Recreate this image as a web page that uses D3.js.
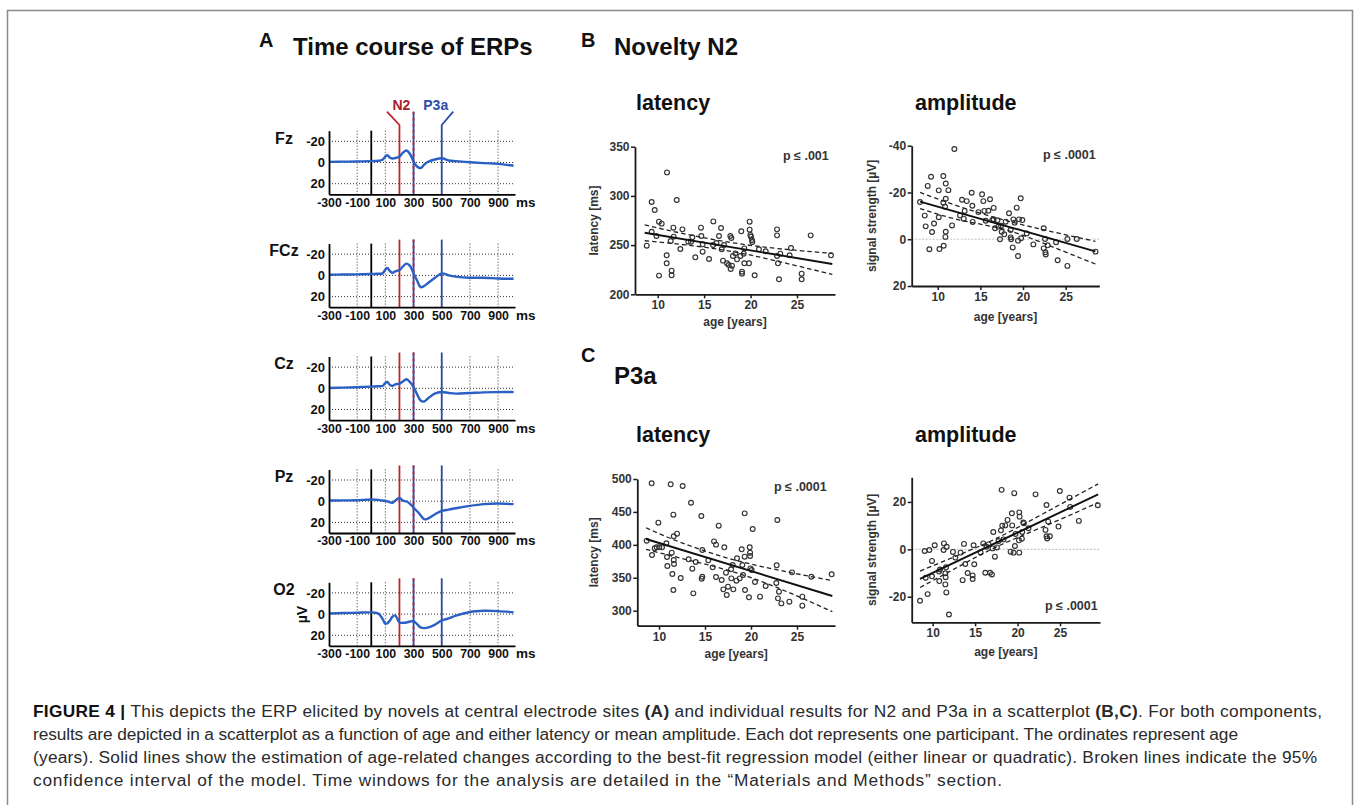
<!DOCTYPE html>
<html><head><meta charset="utf-8">
<script src="https://cdn.jsdelivr.net/npm/d3@7"></script>
<style>
body{margin:0;background:#fff}
svg{display:block;font-family:Arial,"Liberation Sans",Helvetica,sans-serif}
</style>
</head><body>
<svg id="fig" width="1356" height="805"></svg>
<script>
// ---------------- DATA ----------------
// Panel A: ERP time course (µV, negative up)
const electrodes = ["Fz", "FCz", "Cz", "Pz", "O2"];
const erpTimes = [-300,-200,-100,0,50,80,100,115,130,150,170,200,225,250,275,300,325,350,375,400,450,500,550,600,700,800,900,1010];
const erpFz  = [-0.6,-0.8,-1,-1.3,-1.6,-2.5,-5.7,-6.9,-4.8,-3.8,-4.2,-5.7,-9.3,-11.3,-8.0,-0.9,3.8,5.3,2.0,-0.5,-2.8,-4.0,-1.9,-1.3,-0.3,0.6,1.3,3.1];
const erpFCz = [-0.6,-0.8,-1,-1.3,-1.5,-1.9,-5.5,-7,-4.5,-2.5,-3.8,-5.1,-8.5,-11.1,-9.0,-1.9,4.8,11.1,10.0,7.5,2.5,-1.9,0.0,1.2,2.2,2.2,2.9,3.2];
const erpCz  = [-0.3,-0.6,-1,-1.6,-1.9,-2.2,-5,-6,-3.5,-2.2,-3.8,-4.4,-6.5,-8.5,-5.8,-1.3,5.5,11.5,12.5,9.8,5,3.5,4.4,5.0,4.4,3.8,3.6,3.5];
const erpPz  = [-0.6,-0.8,-0.9,-1.6,-1.2,-0.6,-0.3,0.2,0.8,1.6,-0.5,-3.1,-0.5,0.3,2.5,6,9.5,13.2,17,16.5,12.5,9.1,7.9,6.6,4.4,2.8,2.2,2.8];
const erpO2  = [-0.6,-1,-1.3,-1.6,-0.5,4.5,9.1,8.5,6.6,2.5,1.2,7.9,8.2,7.9,7.0,6.6,9.5,12.5,13.2,12.8,10.1,6,4.1,1.5,-2.0,-3.1,-2.8,-1.6];
const erpSeries = [erpFz, erpFCz, erpCz, erpPz, erpO2];
const erpXTicks = [-300,-100,100,300,500,700,900];
const erpYTicks = [-20,0,20];
const erpGridX = [-100,100,300,500,700,900];
const markerTimes = [0,200,300,500];
const markerLabels = ["", "N2", "", "P3a"];

// Scatter ticks
const ageTicks = [10,15,20,25];
const n2LatTicks = [200,250,300,350];
const n2AmpTicks = [-40,-20,0,20];
const p3LatTicks = [300,350,400,450,500];
const p3AmpTicks = [-20,0,20];

// B: Novelty N2 latency
const n2LatAge = [8.82,9.35,9.68,9.35,9.86,10.14,10.14,10.43,11.0,10.97,10.97,11.5,11.5,11.4,11.69,11.72,12.05,12.44,12.66,13.3,13.59,13.73,14.05,14.66,14.7,14.84,14.84,15.53,15.99,15.96,16.32,16.6,16.82,16.89,17.03,17.14,17.46,17.64,17.82,17.93,17.86,18.0,18.1,18.36,18.54,18.9,19.0,19.08,19.08,19.33,19.26,19.33,19.83,19.9,19.9,19.98,20.05,20.15,20.19,20.44,20.9,21.63,22.85,22.85,22.85,22.95,23.06,23.2,24.2,24.35,25.5,25.5,26.47,28.66];
const n2LatVal = [249.4,293.8,285.7,263.6,259.2,219,273.8,271.8,323.9,239.6,231.5,224,219.3,254.2,267.7,258.6,295.8,246,266,253.5,253.5,257.9,237.6,267.7,259.2,250.8,243.3,235.9,274.1,250.1,252.1,259.2,267.4,245.7,234.2,250.1,231.5,229.8,259.2,257.2,225.7,229.1,238.9,241.6,235.5,238.9,264,223,221,246.6,241.3,231.5,231.5,273.8,265.7,260.3,258.6,255.2,253.2,219.3,245.7,243.7,266,259.9,238.9,231.5,215.2,241.3,239.6,247,221,215.2,259.9,239.6];
const n2LatFitAge = [8.6, 28.8];
const n2LatFit = [262.6, 230.8];
const n2LatCIAge = [8.6, 13, 18, 23, 28.8];
const n2LatCIUp = [270.6, 261.2, 252.5, 246.4, 241.6];
const n2LatCILo = [254.4, 250.2, 243.5, 233.4, 220.3];

// B: Novelty N2 amplitude
const n2AmpAge = [7.93,8.48,8.59,8.83,9.02,9.22,9.34,9.57,10.12,10.12,10.2,10.66,10.66,10.94,10.94,10.86,10.94,10.9,10.7,11.25,11.68,11.95,12.62,12.85,13.05,13.16,13.4,13.98,14.06,14.1,14.77,15.2,15.35,15.47,15.63,15.94,16.13,16.4,16.56,16.56,16.72,17.0,17.1,17.3,17.42,17.5,17.8,17.97,18.36,18.55,18.55,18.6,18.79,18.87,19.02,19.26,19.41,19.41,19.53,19.73,19.77,19.92,20.43,21.21,22.42,22.42,22.58,22.62,22.66,22.89,23.87,24.06,25.2,25.2,26.3,28.5];
const n2AmpVal = [-15.9,-10.1,-5.5,-22.8,4.3,-26.7,-3.1,-6.7,-20.9,-9.4,4.2,-27.0,-15.6,-23.8,-17.3,-13.9,-3.2,-1.0,2.8,-21.0,-5.9,-38.6,-10.2,-16.9,-8.8,-12.1,-16.3,-19.9,-14.3,-7.4,-11.6,-19.2,-16.3,-12.1,-7.9,-12.2,-17.1,-8.2,-13.4,-8.5,-4.7,-8.1,-5.4,0.0,-5.8,-3.2,-2.1,-7.5,-11.1,-3.9,-0.8,0.0,3.5,-8.5,-7.1,-13.5,0.6,7.2,-8.5,-17.5,-0.4,-8.2,-2.5,2.2,-4.7,3.9,-0.1,5.6,6.5,2.6,1.3,9.0,-0.1,11.4,-0.1,5.3];
const n2AmpFitAge = [7.93, 28.48];
const n2AmpFit = [-16.1, 5.2];
const n2AmpCIAge = [7.93, 12.6, 17.7, 22.8, 28.48];
const n2AmpCIUp = [-20.0, -13.9, -8.3, -3.7, 0.9];
const n2AmpCILo = [-13.1, -8.2, -4.3, 2.3, 10.6];

// C: P3a latency
const p3LatAge = [8.66,9.2,9.24,9.53,9.75,9.93,10.04,10.33,10.8,10.87,10.91,11.27,11.38,11.45,11.56,11.6,11.6,11.63,11.56,11.96,12.36,12.57,13.22,13.48,13.62,13.73,13.99,14.6,14.71,14.64,14.71,15.36,15.83,15.98,16.2,16.2,16.49,16.81,16.99,17.1,17.28,17.36,17.5,17.83,17.86,18.0,18.08,18.41,18.48,18.77,18.99,19.06,19.13,19.31,19.31,19.35,19.78,19.86,19.9,19.9,19.94,20.07,20.18,20.43,20.98,21.59,22.75,22.79,22.86,22.93,23.04,23.3,24.17,24.46,25.58,25.58,26.56,28.77];
const p3LatVal = [406.3,493.4,384.6,394.7,396.2,433.7,396.2,396.2,402.3,381.5,367.8,491.9,388.1,355.7,445.8,412.9,377,370.9,331.4,417,349.6,489.4,378,464,363.8,326.3,373.9,443.8,392.2,348.6,351.6,376.5,365.8,405.3,400.3,351.1,429.1,346.6,332.4,396.2,357.7,323.8,336.5,362.8,349.1,369.4,332.4,345.6,379.5,349.1,393.2,369.4,354.2,447.8,382,331.4,320.3,396.2,388.1,383.0,364.3,361.8,424.1,343.6,321.3,337.5,342,368.9,437.7,318.7,328.9,311.1,313.7,358.2,321.3,307.6,351.6,355.2];
const p3LatFitAge = [8.59, 28.84];
const p3LatFit = [408.9, 322.3];
const p3LatCIAge = [8.59, 12.3, 17.7, 23.2, 28.84];
const p3LatCIUp = [426, 404, 379, 361, 345.6];
const p3LatCILo = [393.2, 380, 360.5, 333, 298.5];

// C: P3a amplitude
const p3AmpAge = [8.51,9.06,9.18,9.41,9.61,9.92,9.92,10.24,10.75,10.78,10.86,11.29,11.33,11.49,11.53,11.57,11.49,11.61,11.65,11.92,12.39,12.67,13.29,13.53,13.69,13.84,14.12,14.71,14.71,14.82,14.9,15.65,15.96,16.2,16.35,16.59,16.75,16.98,17.06,17.14,17.33,17.57,17.76,18.04,18.12,18.2,18.35,18.55,18.82,19.18,19.33,19.37,19.53,19.61,19.69,19.76,20.16,20.2,20.2,20.24,20.51,20.55,20.67,20.75,21.29,22.12,23.29,23.41,23.41,23.49,23.61,23.8,24.82,24.98,26.12,26.2,27.22,29.45];
const p3AmpVal = [-21.7,-0.7,-12.0,-18.9,-0.3,-11.4,-4.9,1.7,-9.4,-13.4,-8.5,-0.3,2.5,-10.1,-11.8,-7.6,-14.8,-18.2,1.1,-27.5,-1.1,-3.5,-1.4,-13.0,2.3,-6.2,-10.0,-11.0,-12.5,1.7,-6.3,-1.3,2.5,-9.9,1.1,2.1,-9.9,-10.6,0.4,7.3,-3.1,0.8,3.5,8.0,25.1,10.0,4.2,10.1,12.4,-1.0,15.2,10.1,-1.4,23.7,1.4,6.5,3.8,-1.4,15.6,13.8,4.5,7.3,11.3,11.0,8.9,23.2,8.2,18.7,5.5,4.6,11.7,5.5,9.6,24.6,21.8,17.9,12.0,18.6];
const p3AmpFitAge = [8.51, 29.49];
const p3AmpFit = [-12.5, 23.2];
const p3AmpCIAge = [8.51, 13, 17.5, 23, 29.49];
const p3AmpCIUp = [-9.2, -2.5, 4.6, 15.0, 27.6];
const p3AmpCILo = [-16.1, -7.4, 1.0, 9.5, 19.7];

// ---------------- DRAW ----------------
const svg = d3.select("#fig");
svg.append("rect").attr("x",7.5).attr("y",10.5).attr("width",1345).attr("height",820)
  .attr("fill","none").attr("stroke","#8a8a8a").attr("stroke-width",1.5);

const fmt = d => String(d);

// Headers
function txt(x,y,s,size,weight,anchor,fill){
  return svg.append("text").attr("x",x).attr("y",y).text(s)
    .attr("font-size",size).attr("font-weight",weight||"bold")
    .attr("text-anchor",anchor||"start").attr("fill",fill||"#111");
}
txt(259,47,"A",20);
txt(293,55,"Time course of ERPs",24);
txt(581,47,"B",20);
txt(614,55,"Novelty N2",24);
txt(581,362,"C",20);
txt(614,384,"P3a",24);
txt(636,110,"latency",21.5);
txt(915,110,"amplitude",21.5);
txt(636,442,"latency",21.5);
txt(915,442,"amplitude",21.5);

// ---- Panel A ----
const RED = "#c0252d", BLUE = "#2a49a6", WAVE = "#2a5fc4";
const xE = d3.scaleLinear().domain([-300,1020]).range([329,515]);
electrodes.forEach((name,i)=>{
  const top = 130.7 + i*112.9, bot = top + 63.6;
  const yE = d3.scaleLinear().domain([-30,30]).range([top,bot]);
  const g = svg.append("g");
  // grid
  g.selectAll(".gx").data(erpGridX).enter().append("line")
    .attr("x1",d=>xE(d)).attr("x2",d=>xE(d)).attr("y1",top).attr("y2",bot)
    .attr("stroke","#333").attr("stroke-width",1).attr("stroke-dasharray","1,2");
  g.selectAll(".gy").data(erpYTicks).enter().append("line")
    .attr("x1",xE(-300)).attr("x2",xE(1020)).attr("y1",d=>yE(d)).attr("y2",d=>yE(d))
    .attr("stroke","#333").attr("stroke-width",1).attr("stroke-dasharray","1,2");
  // markers
  markerTimes.forEach((t,k)=>{
    const x = xE(t);
    if (t === 0) {
      g.append("line").attr("x1",x).attr("x2",x).attr("y1",top).attr("y2",bot)
        .attr("stroke","#000").attr("stroke-width",1.8);
    } else if (markerLabels[k] === "" ) {
      const y1 = i===0 ? top-19 : top-4;
      g.append("line").attr("x1",x).attr("x2",x).attr("y1",y1).attr("y2",bot)
        .attr("stroke",BLUE).attr("stroke-width",1.8);
      g.append("line").attr("x1",x).attr("x2",x).attr("y1",y1).attr("y2",bot)
        .attr("stroke",RED).attr("stroke-width",1.8).attr("stroke-dasharray","3,3");
    } else {
      const col = markerLabels[k]==="N2" ? RED : BLUE;
      if (i===0) {
        const dx = markerLabels[k]==="N2" ? -12.5 : 11.5;
        g.append("path").attr("d",`M${x+dx},${top-19} L${x},${top-5.7} L${x},${bot}`)
          .attr("fill","none").attr("stroke",col).attr("stroke-width",1.8);
        const lx = markerLabels[k]==="N2" ? x+2 : x-6;
        g.append("text").attr("x",lx).attr("y",top-20.5).text(markerLabels[k])
          .attr("font-size",14).attr("font-weight","bold").attr("fill",
            markerLabels[k]==="N2" ? "#a5202c" : "#2c4ea6").attr("text-anchor","middle");
      } else {
        g.append("line").attr("x1",x).attr("x2",x).attr("y1",top-4).attr("y2",bot)
          .attr("stroke",col).attr("stroke-width",1.8);
      }
    }
  });
  // waveform
  const line = d3.line().x((d,j)=>xE(erpTimes[j])).y(d=>yE(d)).curve(d3.curveCatmullRom.alpha(0.5));
  g.append("path").attr("d",line(erpSeries[i])).attr("fill","none")
    .attr("stroke",WAVE).attr("stroke-width",2.4);
  // axes
  const ay = g.append("g").attr("transform",`translate(${xE(-300)},0)`)
    .call(d3.axisLeft(yE).tickValues(erpYTicks).tickFormat(fmt).tickSize(0).tickSizeOuter(0).tickPadding(4));
  const ax = g.append("g").attr("transform",`translate(0,${bot})`)
    .call(d3.axisBottom(xE).tickValues(erpXTicks).tickFormat(fmt).tickSize(0).tickSizeOuter(0).tickPadding(3.7));
  [ay,ax].forEach(a=>{
    a.select(".domain").attr("stroke","#000").attr("stroke-width",1.8);
    a.selectAll("text").attr("font-family","Arial, 'Liberation Sans', sans-serif")
      .attr("font-weight","bold").attr("fill","#111");
  });
  ay.selectAll("text").attr("font-size",13);
  ax.selectAll("text").attr("font-size",12.3);
  g.append("text").attr("x",516).attr("y",bot+12.4).text("ms")
    .attr("font-size",13.5).attr("font-weight","bold").attr("fill","#111");
  g.append("text").attr("x",284).attr("y",top+12.8).text(name)
    .attr("font-size",16).attr("font-weight","bold").attr("text-anchor","middle").attr("fill","#111");
  if (name === "O2") {
    g.append("text").attr("transform",`translate(302,${(top+bot)/2+0.5}) rotate(-90)`)
      .attr("dy","0.35em").text("µV").attr("font-size",14).attr("font-weight","bold")
      .attr("text-anchor","middle").attr("fill","#111");
  }
});

// ---- Scatter panels ----
function scatter(o){
  const g = svg.append("g");
  const x = d3.scaleLinear().domain(o.xd).range(o.xr);
  const y = d3.scaleLinear().domain(o.yd).range(o.yr);
  if (o.zero) {
    g.append("line").attr("x1",o.xr[0]).attr("x2",o.xr[1]).attr("y1",y(0)).attr("y2",y(0))
      .attr("stroke","#c4c4c4").attr("stroke-width",1.2).attr("stroke-dasharray","2,1.5");
  }
  const ax = g.append("g").attr("transform",`translate(0,${o.yr[1]})`)
    .call(d3.axisBottom(x).tickValues(ageTicks).tickFormat(fmt).tickSize(4).tickSizeOuter(0).tickPadding(2.5));
  const ay = g.append("g").attr("transform",`translate(${o.xr[0]},0)`)
    .call(d3.axisLeft(y).tickValues(o.yt).tickFormat(fmt).tickSize(4).tickSizeOuter(0).tickPadding(1.5));
  [ax,ay].forEach(a=>{
    a.select(".domain").attr("stroke","#1a1a1a").attr("stroke-width",1.8);
    a.selectAll(".tick line").attr("stroke","#1a1a1a").attr("stroke-width",1.5);
    a.selectAll("text").attr("font-family","Arial, 'Liberation Sans', sans-serif")
      .attr("font-size",12).attr("font-weight","bold").attr("fill","#333");
  });
  // points
  g.selectAll("circle").data(o.age).enter().append("circle")
    .attr("cx",d=>x(d)).attr("cy",(d,i)=>y(o.val[i])).attr("r",2.4)
    .attr("fill","none").attr("stroke","#333").attr("stroke-width",1.15);
  // fit
  const lf = d3.line().x((d,i)=>x(o.fitAge[i])).y(d=>y(d));
  g.append("path").attr("d",lf(o.fit)).attr("fill","none").attr("stroke","#111").attr("stroke-width",1.9);
  const lc = d3.line().x((d,i)=>x(o.ciAge[i])).y(d=>y(d)).curve(d3.curveNatural);
  [o.ciUp,o.ciLo].forEach(arr=>{
    g.append("path").attr("d",lc(arr)).attr("fill","none").attr("stroke","#222")
      .attr("stroke-width",1.3).attr("stroke-dasharray","4.5,3");
  });
  // labels
  g.append("text").attr("x",(o.xr[0]+o.xr[1])/2).attr("y",o.yr[1]+o.xty).text("age [years]")
    .attr("font-size",12).attr("font-weight","bold").attr("text-anchor","middle").attr("fill","#333");
  g.append("text").attr("transform",`translate(${o.ytx},${(o.yr[0]+o.yr[1])/2}) rotate(-90)`)
    .attr("dy","0.35em").text(o.ytitle).attr("font-size",12).attr("font-weight","bold")
    .attr("text-anchor","middle").attr("fill","#333");
  g.append("text").attr("x",o.px).attr("y",o.py).text(o.p)
    .attr("font-size",12.5).attr("font-weight","bold").attr("fill","#333");
}

scatter({xd:[7.556,29.09], xr:[635,835], yd:[350,200], yr:[146.7,294.3], yt:n2LatTicks,
  age:n2LatAge, val:n2LatVal, fitAge:n2LatFitAge, fit:n2LatFit,
  ciAge:n2LatCIAge, ciUp:n2LatCIUp, ciLo:n2LatCILo, zero:false,
  ytitle:"latency [ms]", ytx:593.5, xty:31.5, p:"p ≤ .001", px:783, py:159.5});
scatter({xd:[6.95,28.94], xr:[911.7,1099.3], yd:[-40,20], yr:[145.7,286], yt:n2AmpTicks,
  age:n2AmpAge, val:n2AmpVal, fitAge:n2AmpFitAge, fit:n2AmpFit,
  ciAge:n2AmpCIAge, ciUp:n2AmpCIUp, ciLo:n2AmpCILo, zero:true,
  ytitle:"signal strength [µV]", ytx:871.7, xty:35, p:"p ≤ .0001", px:1043, py:158.5});
scatter({xd:[7.64,29.13], xr:[637.3,835], yd:[500,277.2], yr:[479,625.7], yt:p3LatTicks,
  age:p3LatAge, val:p3LatVal, fitAge:p3LatFitAge, fit:p3LatFit,
  ciAge:p3LatCIAge, ciUp:p3LatCIUp, ciLo:p3LatCILo, zero:false,
  ytitle:"latency [ms]", ytx:594, xty:32, p:"p ≤ .0001", px:774, py:490.5});
scatter({xd:[7.53,29.71], xr:[911.7,1100], yd:[30.4,-30.8], yr:[477.3,622.3], yt:p3AmpTicks,
  age:p3AmpAge, val:p3AmpVal, fitAge:p3AmpFitAge, fit:p3AmpFit,
  ciAge:p3AmpCIAge, ciUp:p3AmpCIUp, ciLo:p3AmpCILo, zero:true,
  ytitle:"signal strength [µV]", ytx:871.7, xty:34, p:"p ≤ .0001", px:1045, py:610});

// ---- Caption ----
const capLines = [
  [["FIGURE 4 | ",1],["This depicts the ERP elicited by novels at central electrode sites ",0],["(A)",1],[" and individual results for N2 and P3a in a scatterplot ",0],["(B,C)",1],[". For both components,",0]],
  [["results are depicted in a scatterplot as a function of age and either latency or mean amplitude. Each dot represents one participant. The ordinates represent age",0]],
  [["(years). Solid lines show the estimation of age-related changes according to the best-fit regression model (either linear or quadratic). Broken lines indicate the 95%",0]],
  [["confidence interval of the model. Time windows for the analysis are detailed in the \u201CMaterials and Methods\u201D section.",0]]
];
const capWidths = [1289, 1205, 1284, 969];
capLines.forEach((segs,i)=>{
  const t = svg.append("text").attr("x",33).attr("y",717 + i*23)
    .attr("font-size",17.3).attr("fill","#2a2a2a").attr("xml:space","preserve")
    .attr("textLength",capWidths[i]).attr("lengthAdjust","spacing");
  segs.forEach(s=>{
    t.append("tspan").text(s[0]).attr("font-weight",s[1]?"bold":"normal")
      .attr("fill",s[1]&&i===0&&s[0].startsWith("FIGURE")?"#111":null);
  });
});
</script>
</body></html>
